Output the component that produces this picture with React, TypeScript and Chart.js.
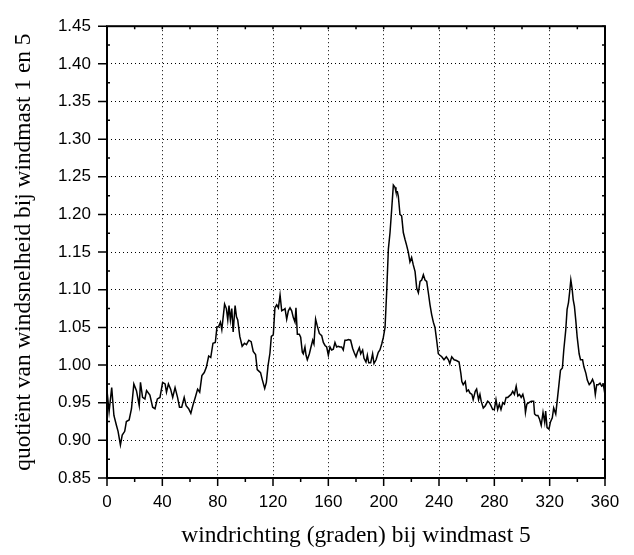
import React, { useEffect, useRef } from "react";
import { Chart, registerables } from "chart.js";

Chart.register(...registerables);

// Wind direction (degrees) and quotient in three segments
const dirA = [0, 1.5, 3.4, 5, 6.8, 8, 9.7, 11, 12.8, 14, 16, 17.7, 19.4, 21.3, 23.3, 24.2, 25.7, 27.4, 28.6, 31,
  33, 34.7, 36.4, 38.3, 40.2, 42, 43, 44.4, 46, 47.5, 49.2, 51, 52.4, 54, 55.8, 57.2, 59, 60.6, 62, 63.8,
  65.5, 67, 68.6, 70.3, 71.8, 73.5, 75, 76.6, 78.3, 79.5, 80.7, 82, 83, 85, 86.3, 87.3, 88.2, 89.2, 90.2, 91.2,
  92.6, 93.6, 94.5, 96, 97.7, 99.4, 100.8, 102.5, 104.2, 105.7, 107.4, 108.6, 109.8, 111, 112.2, 114, 115.2, 116.4, 117.8, 118.8,
  120.2];
const quotA = [0.966, 0.938, 0.970, 0.933, 0.920, 0.912, 0.894, 0.907, 0.912, 0.925, 0.927, 0.942, 0.975, 0.966, 0.946, 0.977, 0.957, 0.955, 0.966, 0.960,
  0.944, 0.942, 0.955, 0.957, 0.977, 0.975, 0.964, 0.975, 0.968, 0.957, 0.970, 0.957, 0.944, 0.944, 0.957, 0.946, 0.942, 0.936, 0.946, 0.957,
  0.968, 0.964, 0.986, 0.990, 0.997, 1.012, 1.010, 1.029, 1.030, 1.051, 1.051, 1.057, 1.047, 1.081, 1.075, 1.060, 1.079, 1.060, 1.075, 1.044,
  1.079, 1.064, 1.060, 1.038, 1.025, 1.029, 1.027, 1.033, 1.031, 1.018, 1.014, 0.994, 0.992, 0.990, 0.981, 0.969, 0.977, 0.999, 1.016, 1.038,
  1.040];

const dirB = [121.4, 122.7, 123.9, 125.1, 126.3, 128, 128.7, 129.9, 131.1, 132.3, 133.5, 134.7, 135.9, 136.6, 137.6, 139, 140, 141.2, 141.9, 143.1,
  143.9, 144.8, 146.3, 147.2, 148.7, 149.6, 150.8, 152, 153.5, 155.2, 156.4, 157.6, 158.8, 160, 161.2, 162.4, 163.6, 164.8, 166, 167.2,
  168.4, 169.6, 170.8, 172, 173.3, 174.5, 176.1, 177.6, 178.6, 180, 181, 182.4, 183.4, 184.8, 185.8, 187.2, 188.2, 189.2, 190.6, 192,
  193, 194.5, 196.1, 197.3, 198.6, 199.8, 201, 202.2, 203.4, 204.6, 205.8, 207, 208.2, 208.9, 209.9, 210.6, 211.8, 213, 214.2, 215.4,
  216.6, 217.8, 219, 220.2, 221.4, 222.7, 223.9, 225.1, 226.3, 227.5, 228.7, 229.9, 231.1, 232.3, 233.5, 234.7, 235.9, 237.1, 238.3, 239.5,
  240.7];
const quotB = [1.076, 1.080, 1.076, 1.093, 1.072, 1.074, 1.075, 1.061, 1.072, 1.076, 1.072, 1.063, 1.057, 1.076, 1.041, 1.041, 1.037, 1.017, 1.015, 1.024,
  1.013, 1.007, 1.015, 1.022, 1.033, 1.028, 1.061, 1.052, 1.042, 1.039, 1.030, 1.026, 1.024, 1.013, 1.024, 1.020, 1.021, 1.030, 1.024, 1.025,
  1.024, 1.024, 1.020, 1.033, 1.033, 1.034, 1.033, 1.022, 1.017, 1.011, 1.017, 1.023, 1.015, 1.020, 1.009, 1.004, 1.013, 1.003, 1.003, 1.015,
  1.002, 1.007, 1.017, 1.020, 1.028, 1.037, 1.050, 1.098, 1.154, 1.176, 1.207, 1.239, 1.236, 1.230, 1.230, 1.224, 1.200, 1.198, 1.176, 1.167,
  1.159, 1.150, 1.137, 1.143, 1.133, 1.124, 1.102, 1.096, 1.111, 1.113, 1.120, 1.113, 1.111, 1.096, 1.080, 1.067, 1.057, 1.050, 1.033, 1.015,
  1.013];

const dirC = [242, 243.6, 245.3, 246.8, 247.8, 249.2, 250.9, 252.6, 254.5, 255.8, 256.5, 257.5, 259, 260, 261.3, 262.3, 263.8, 264.7, 266.2, 267.2,
  268.6, 269.6, 270.5, 272, 273.5, 275.2, 276.4, 277.6, 278.8, 280, 281.2, 282.4, 283.6, 284.8, 286.1, 287.3, 288.5, 289.7, 290.9, 292.1,
  293.3, 294.5, 295.8, 297, 298.2, 299.4, 300.6, 301.8, 302.5, 303.5, 305, 306.7, 308.4, 309.1, 310.3, 311.5, 312.7, 313.9, 315.2, 316.4,
  317.1, 318.1, 319.5, 320.5, 321.9, 322.9, 324.4, 325.3, 326.3, 327.8, 329.2, 330.2, 331.6, 332.6, 333.6, 334.5, 335.3, 336.2, 337, 337.9,
  338.9, 339.9, 341.3, 342.3, 343.8, 344.7, 346.2, 347.2, 348.6, 349.6, 351, 352, 353, 354, 355.2, 356.4, 357.6, 358.8, 359.8];
const quotC = [1.011, 1.007, 1.011, 1.007, 1.002, 1.011, 1.007, 1.006, 1.004, 0.989, 0.978, 0.974, 0.978, 0.965, 0.967, 0.963, 0.961, 0.954, 0.965, 0.968,
  0.954, 0.961, 0.952, 0.943, 0.946, 0.952, 0.950, 0.946, 0.941, 0.941, 0.954, 0.941, 0.948, 0.941, 0.950, 0.948, 0.957, 0.957, 0.959, 0.961,
  0.965, 0.961, 0.972, 0.959, 0.961, 0.957, 0.961, 0.952, 0.937, 0.948, 0.950, 0.952, 0.952, 0.935, 0.933, 0.933, 0.928, 0.920, 0.937, 0.924,
  0.939, 0.917, 0.915, 0.924, 0.930, 0.943, 0.935, 0.950, 0.967, 0.993, 0.996, 1.020, 1.046, 1.074, 1.083, 1.098, 1.113, 1.102, 1.087, 1.078,
  1.059, 1.037, 1.015, 1.007, 1.007, 0.998, 0.989, 0.980, 0.974, 0.976, 0.981, 0.976, 0.961, 0.974, 0.974, 0.976, 0.972, 0.974, 0.963];

const xMin = 0, xMax = 360, xStep = 40, xMinor = 20;
const yMin = 0.85, yMax = 1.45, yStep = 0.05, yMinor = 0.025;

const xTitle = "windrichting (graden) bij windmast 5";
const yTitle = "quotiënt van windsnelheid bij windmast 1 en 5";

const framePlugin = {
  id: "frameTicks",
  afterDraw(chart: any) {
    const { ctx, chartArea } = chart;
    const xs = chart.scales.x;
    const ys = chart.scales.y;
    const { left, right, top, bottom } = chartArea;
    ctx.save();
    ctx.strokeStyle = "#000";
    ctx.lineWidth = 2;
    ctx.setLineDash([]);
    ctx.strokeRect(left, top, right - left, bottom - top);
    ctx.lineWidth = 1.5;
    ctx.beginPath();
    for (let v = xMin; v <= xMax + 1e-9; v += xMinor) {
      const px = xs.getPixelForValue(v);
      const major = Math.abs(v / xStep - Math.round(v / xStep)) < 1e-6;
      ctx.moveTo(px, bottom);
      ctx.lineTo(px, bottom + (major ? 8 : 4));
      ctx.moveTo(px, top);
      ctx.lineTo(px, top + 3);
    }
    const n = Math.round((yMax - yMin) / yMinor);
    for (let i = 0; i <= n; i++) {
      const v = yMin + i * yMinor;
      const py = ys.getPixelForValue(v);
      const major = i % 2 === 0;
      if (major) {
        ctx.moveTo(left, py);
        ctx.lineTo(left - 9, py);
      } else {
        ctx.moveTo(left, py);
        ctx.lineTo(left + 3, py);
      }
      ctx.moveTo(right, py);
      ctx.lineTo(right - 3, py);
    }
    ctx.stroke();
    ctx.restore();
  },
};

export default function App() {
  const canvasRef = useRef<HTMLCanvasElement | null>(null);

  useEffect(() => {
    document.body.style.margin = "0";
    const canvas = canvasRef.current;
    if (!canvas) return;
    const dirs = [...dirA, ...dirB, ...dirC];
    const quots = [...quotA, ...quotB, ...quotC];
    const points = dirs.map((d, i) => ({ x: d, y: quots[i] }));

    const tickFont = { family: "'Liberation Sans', Arial, sans-serif", size: 17 };
    const titleFont = { family: "'Liberation Serif', 'Times New Roman', serif", size: 23.4 };

    const chart = new Chart(canvas, {
      type: "line",
      data: {
        datasets: [
          {
            data: points,
            borderColor: "#000",
            borderWidth: 1.5,
            pointRadius: 0,
            tension: 0,
            fill: false,
          },
        ],
      },
      options: {
        animation: false,
        responsive: false,
        events: [],
        layout: { padding: { top: 15, right: 29, bottom: 0, left: 0 } },
        plugins: { legend: { display: false }, tooltip: { enabled: false } },
        scales: {
          x: {
            type: "linear",
            min: xMin,
            max: xMax,
            afterFit: (s: any) => { s.height = 77; },
            ticks: { stepSize: xStep, color: "#000", font: tickFont, padding: 14, maxRotation: 0 },
            grid: { color: "#000", lineWidth: 1, drawTicks: false },
            border: { display: false, dash: [1, 3] },
            title: { display: true, text: xTitle, color: "#000", font: titleFont, padding: { top: 0, bottom: 5 } },
          },
          y: {
            type: "linear",
            min: yMin,
            max: yMax,
            afterFit: (s: any) => { s.width = 107; },
            ticks: {
              stepSize: yStep,
              color: "#000",
              font: tickFont,
              padding: 16,
              callback: (v: any) => Number(v).toFixed(2),
            },
            grid: { color: "#000", lineWidth: 1, drawTicks: false },
            border: { display: false, dash: [1, 3] },
            title: { display: true, text: yTitle, color: "#000", font: titleFont, padding: { top: 10, bottom: 0 } },
          },
        },
      },
      plugins: [framePlugin],
    });
    return () => chart.destroy();
  }, []);

  return (
    <div style={{ width: 634, height: 555, background: "#fff" }}>
      <canvas ref={canvasRef} width={634} height={555} />
    </div>
  );
}
